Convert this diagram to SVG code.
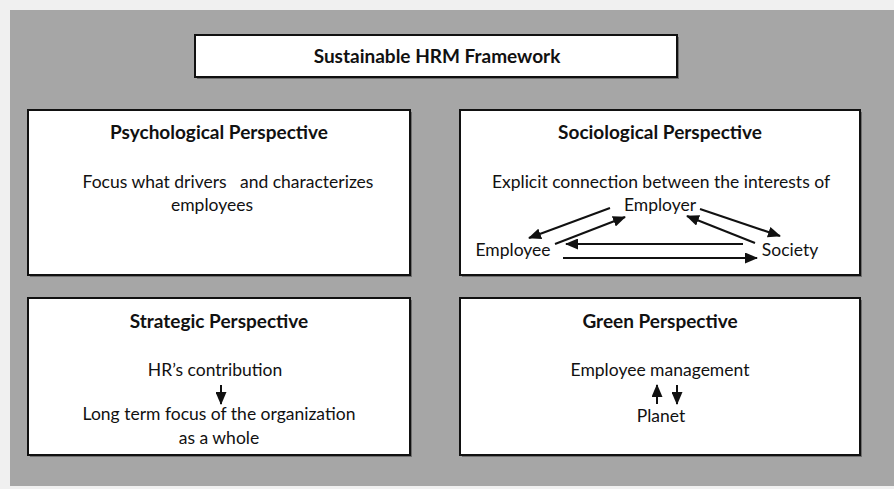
<svg xmlns="http://www.w3.org/2000/svg" width="894" height="489" viewBox="0 0 894 489">
<defs>
<style>
.box{fill:#fff;stroke:#111;stroke-width:2}
.shadow{fill:#6e6e6e}
text{font-family:Lato,"Open Sans","Liberation Sans",sans-serif;font-size:17.5px;fill:#111;text-anchor:middle}
.b{font-weight:bold;font-size:19px}
.conn line{stroke:#111;stroke-width:2;marker-end:url(#ah)}
</style>
<marker id="ah" viewBox="0 0 13 11" refX="12" refY="5.5" markerWidth="13" markerHeight="11" markerUnits="userSpaceOnUse" orient="auto">
<path d="M0,0 L13,5.5 L0,11 z" fill="#111"/>
</marker>
</defs>
<rect x="0" y="0" width="894" height="489" fill="#f0f0f0"/>
<rect x="10" y="10" width="884" height="476" fill="#a6a6a6"/>

<g id="title">
<rect class="shadow" x="197" y="37" width="482" height="42"/>
<rect class="box" x="195" y="35" width="482" height="42"/>
<text class="b" x="437" y="63">Sustainable HRM Framework</text>
</g>

<g id="psychological">
<rect class="shadow" x="30" y="112" width="382" height="165"/>
<rect class="box" x="28" y="110" width="382" height="165"/>
<text class="b" x="219" y="139">Psychological Perspective</text>
<text x="228" y="188" xml:space="preserve">Focus what drivers   and characterizes</text>
<text x="212" y="211">employees</text>
</g>

<g id="sociological">
<rect class="shadow" x="462" y="112" width="400" height="165"/>
<rect class="box" x="460" y="110" width="400" height="165"/>
<text class="b" x="660" y="139">Sociological Perspective</text>
<text x="661" y="188">Explicit connection between the interests of</text>
<text x="660" y="211">Employer</text>
<text x="513" y="256">Employee</text>
<text x="790" y="256">Society</text>
</g>

<g id="strategic">
<rect class="shadow" x="30" y="300" width="382" height="157"/>
<rect class="box" x="28" y="298" width="382" height="157"/>
<text class="b" x="219" y="328">Strategic Perspective</text>
<text x="215" y="376">HR’s contribution</text>
<text x="219" y="420">Long term focus of the organization</text>
<text x="219" y="444">as a whole</text>
</g>

<g id="green">
<rect class="shadow" x="462" y="300" width="400" height="157"/>
<rect class="box" x="460" y="298" width="400" height="157"/>
<text class="b" x="660" y="328">Green Perspective</text>
<text x="660" y="376">Employee management</text>
<text x="661" y="422">Planet</text>
</g>

<g id="connectors" class="conn">
<line x1="610" y1="208" x2="529" y2="238"/>
<line x1="555" y1="244" x2="625" y2="217"/>
<line x1="700" y1="209" x2="780" y2="236"/>
<line x1="755" y1="243" x2="687" y2="216"/>
<line x1="743" y1="244" x2="566" y2="244"/>
<line x1="563" y1="258" x2="757" y2="258"/>
<line x1="221" y1="385" x2="221" y2="404"/>
<line x1="657" y1="404" x2="657" y2="385"/>
<line x1="677" y1="385" x2="677" y2="404"/>
</g>
</svg>
